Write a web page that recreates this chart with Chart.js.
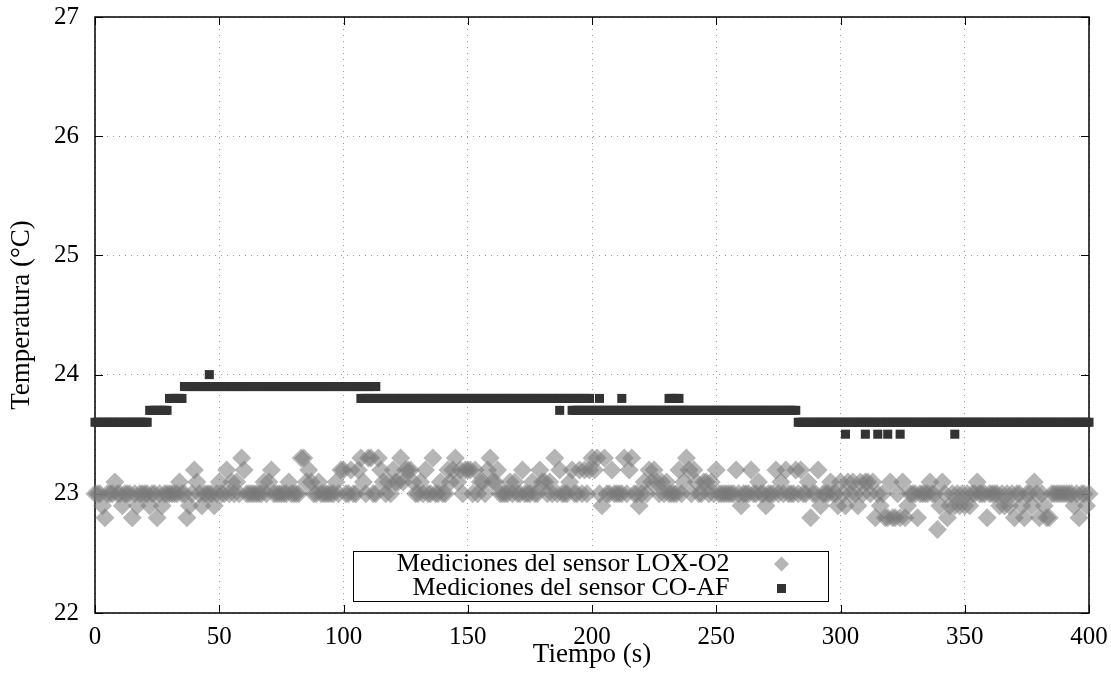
<!DOCTYPE html>
<html lang="es">
<head>
    <meta charset="UTF-8">
    <title>Temperatura - LOX-O2 vs CO-AF</title>
    <script src="https://cdn.jsdelivr.net/npm/chart.js"></script>
    <style>
        html, body {
            margin: 0;
            padding: 0;
            background-color: #fff;
        }
        #wrap {
            width: 1111px;
            height: 698px;
        }
    </style>
</head>
<body>
    <div id="wrap">
        <canvas id="tempChart" width="1111" height="698"></canvas>
    </div>

    <script>
        // Eje x / eje y
        const xTicks = [0, 50, 100, 150, 200, 250, 300, 350, 400];
        const yTicks = [22, 23, 24, 25, 26, 27];

        // Sensor LOX-O2: una lectura por segundo, t = 0..400
        const loxTemp = [
            23.0, 23.0, 23.0, 22.9, 22.8, 23.0, 23.0, 23.0, 23.1, 23.0,
            23.0, 22.9, 23.0, 23.0, 23.0, 22.8, 23.0, 22.9, 23.0, 23.0,
            23.0, 23.0, 22.9, 23.0, 23.0, 22.8, 23.0, 22.9, 23.0, 23.0,
            23.0, 23.0, 23.0, 23.0, 23.1, 23.0, 23.0, 22.8, 22.9, 23.0,
            23.2, 23.1, 23.0, 22.9, 23.0, 23.0, 23.0, 23.0, 22.9, 23.0,
            23.1, 23.0, 23.0, 23.2, 23.0, 23.1, 23.0, 23.1, 23.0, 23.3,
            23.2, 23.0, 23.0, 23.0, 23.0, 23.0, 23.0, 23.0, 23.1, 23.0,
            23.1, 23.2, 23.0, 23.0, 23.0, 23.0, 23.0, 23.0, 23.1, 23.0,
            23.0, 23.0, 23.0, 23.3, 23.3, 23.1, 23.2, 23.1, 23.0, 23.0,
            23.1, 23.0, 23.0, 23.0, 23.0, 23.0, 23.0, 23.1, 23.0, 23.2,
            23.2, 23.0, 23.0, 23.2, 23.0, 23.0, 23.2, 23.3, 23.1, 23.0,
            23.3, 23.3, 23.0, 23.0, 23.3, 23.2, 23.1, 23.0, 23.1, 23.0,
            23.2, 23.1, 23.1, 23.3, 23.1, 23.2, 23.2, 23.2, 23.1, 23.0,
            23.0, 23.1, 23.0, 23.2, 23.0, 23.0, 23.3, 23.0, 23.0, 23.1,
            23.0, 23.0, 23.2, 23.1, 23.2, 23.3, 23.1, 23.2, 23.0, 23.2,
            23.2, 23.2, 23.0, 23.2, 23.0, 23.1, 23.1, 23.0, 23.2, 23.3,
            23.1, 23.1, 23.2, 23.0, 23.0, 23.0, 23.0, 23.1, 23.0, 23.1,
            23.0, 23.0, 23.2, 23.0, 23.0, 23.0, 23.1, 23.0, 23.0, 23.2,
            23.1, 23.1, 23.0, 23.1, 23.0, 23.3, 23.0, 23.2, 23.0, 23.0,
            23.0, 23.1, 23.2, 23.0, 23.0, 23.2, 23.0, 23.2, 23.0, 23.2,
            23.3, 23.2, 23.3, 23.0, 22.9, 23.3, 23.0, 23.0, 23.2, 23.0,
            23.0, 23.0, 23.0, 23.3, 23.0, 23.2, 23.3, 23.0, 23.0, 22.9,
            23.0, 23.1, 23.0, 23.2, 23.1, 23.2, 23.1, 23.0, 23.1, 23.0,
            23.1, 23.0, 23.0, 23.0, 23.0, 23.2, 23.0, 23.1, 23.3, 23.2,
            23.0, 23.2, 23.1, 23.0, 23.0, 23.1, 23.1, 23.0, 23.1, 23.0,
            23.2, 23.0, 23.0, 23.0, 23.0, 23.0, 23.0, 23.0, 23.2, 23.0,
            22.9, 23.0, 23.0, 23.0, 23.2, 23.0, 23.0, 23.1, 23.0, 23.0,
            22.9, 23.0, 23.0, 23.0, 23.2, 23.0, 23.1, 23.0, 23.2, 23.0,
            23.0, 23.0, 23.2, 23.0, 23.2, 23.0, 23.0, 23.1, 22.8, 23.0,
            23.0, 23.2, 22.9, 23.0, 23.0, 23.0, 23.1, 23.0, 23.0, 22.9,
            23.1, 23.0, 22.9, 23.1, 23.0, 23.1, 23.0, 22.9, 23.1, 23.0,
            23.1, 23.1, 23.0, 23.1, 22.8, 23.0, 22.9, 23.0, 22.8, 22.8,
            23.1, 22.8, 22.8, 23.0, 22.8, 23.1, 22.8, 22.9, 23.0, 23.0,
            23.0, 22.8, 23.0, 23.0, 23.0, 23.0, 23.1, 23.0, 23.0, 22.7,
            22.9, 23.1, 23.0, 22.8, 22.9, 23.0, 22.9, 23.0, 22.9, 23.0,
            22.9, 23.0, 22.9, 23.0, 23.0, 23.1, 23.0, 23.0, 23.0, 22.8,
            23.0, 23.0, 23.0, 23.0, 22.9, 23.0, 22.9, 23.0, 22.9, 23.0,
            22.8, 23.0, 23.0, 22.9, 22.8, 23.0, 23.0, 22.9, 23.1, 23.0,
            22.8, 23.0, 22.9, 22.8, 22.8, 23.0, 23.0, 23.0, 23.0, 23.0,
            23.0, 23.0, 23.0, 23.0, 22.9, 23.0, 22.8, 23.0, 23.0, 22.9,
            23.0
        ];

        // Sensor CO-AF: tramos constantes (segundo inicial, segundo final, valor)
        const coStart = [0, 22, 30, 36, 46, 107, 187, 192, 203, 212, 231, 283, 302, 310, 315, 319, 324, 346];
        const coEnd   = [21, 29, 35, 113, 46, 199, 187, 282, 203, 212, 235, 400, 302, 310, 315, 319, 324, 346];
        const coValue = [23.6, 23.7, 23.8, 23.9, 24.0, 23.8, 23.7, 23.7, 23.8, 23.8, 23.8, 23.6, 23.5, 23.5, 23.5, 23.5, 23.5, 23.5];

        const labelLox = "Mediciones del sensor LOX-O2";
        const labelCo = "Mediciones del sensor CO-AF";

        const fontFamily = "'Liberation Serif', 'Times New Roman', serif";
        const loxColor = "rgba(120, 120, 120, 0.55)";
        const coColor = "#333333";

        const loxPoints = loxTemp.map((v, i) => ({ x: i, y: v }));
        const coPoints = [];
        coStart.forEach((s, i) => {
            for (let t = s; t <= coEnd[i]; t++) {
                coPoints.push({ x: t, y: coValue[i] });
            }
        });

        function diamond(ctx, x, y, r) {
            ctx.beginPath();
            ctx.moveTo(x - r, y);
            ctx.lineTo(x, y - r);
            ctx.lineTo(x + r, y);
            ctx.lineTo(x, y + r);
            ctx.closePath();
            ctx.fill();
        }

        // Marco negro con marcas hacia adentro (estilo gnuplot)
        const framePlugin = {
            id: "frame",
            beforeDatasetsDraw(chart) {
                const { ctx, chartArea: a, scales } = chart;
                ctx.save();
                ctx.strokeStyle = "#000";
                ctx.lineWidth = 1;
                ctx.beginPath();
                xTicks.forEach(v => {
                    const px = Math.round(scales.x.getPixelForValue(v)) + 0.5;
                    ctx.moveTo(px, a.bottom); ctx.lineTo(px, a.bottom - 8);
                    ctx.moveTo(px, a.top); ctx.lineTo(px, a.top + 8);
                });
                yTicks.forEach(v => {
                    const py = Math.round(scales.y.getPixelForValue(v)) + 0.5;
                    ctx.moveTo(a.left, py); ctx.lineTo(a.left + 8, py);
                    ctx.moveTo(a.right, py); ctx.lineTo(a.right - 8, py);
                });
                ctx.stroke();
                ctx.lineWidth = 1.5;
                ctx.strokeRect(a.left, a.top, a.right - a.left, a.bottom - a.top);
                ctx.restore();
            },
            afterDraw(chart) {
                const { ctx, chartArea: a } = chart;
                const boxW = 475, boxH = 50;
                const cx = (a.left + a.right) / 2 - 2;
                const left = Math.round(cx - boxW / 2) + 0.5;
                const top = Math.round(a.bottom - 12 - boxH) + 0.5;
                ctx.save();
                ctx.fillStyle = "#fff";
                ctx.fillRect(left, top, boxW, boxH);
                ctx.strokeStyle = "#000";
                ctx.lineWidth = 1;
                ctx.strokeRect(left, top, boxW, boxH);
                ctx.fillStyle = "#000";
                ctx.font = "26px " + fontFamily;
                ctx.textAlign = "right";
                ctx.textBaseline = "middle";
                const textX = left + 376;
                const y1 = top + 12.5, y2 = top + 37;
                ctx.fillText(labelLox, textX, y1);
                ctx.fillText(labelCo, textX, y2);
                const symX = left + 428;
                ctx.fillStyle = loxColor;
                diamond(ctx, symX, y1, 7.5);
                ctx.fillStyle = coColor;
                ctx.fillRect(symX - 4.5, y2 - 4.5, 9, 9);
                ctx.restore();
            }
        };

        const ctx = document.getElementById("tempChart").getContext("2d");
        new Chart(ctx, {
            type: "scatter",
            data: {
                datasets: [
                    {
                        label: labelLox,
                        data: loxPoints,
                        pointStyle: "rectRot",
                        pointRadius: 9.5,
                        backgroundColor: loxColor,
                        borderWidth: 0,
                        clip: false
                    },
                    {
                        label: labelCo,
                        data: coPoints,
                        pointStyle: "rect",
                        pointRadius: 6.4,
                        backgroundColor: coColor,
                        borderWidth: 0,
                        clip: false
                    }
                ]
            },
            options: {
                responsive: false,
                animation: false,
                events: [],
                layout: { padding: { top: 17, right: 22, left: 0, bottom: 0 } },
                plugins: {
                    legend: { display: false },
                    tooltip: { enabled: false }
                },
                scales: {
                    x: {
                        type: "linear",
                        min: 0,
                        max: 400,
                        afterBuildTicks: s => { s.ticks = xTicks.map(v => ({ value: v })); },
                        ticks: {
                            color: "#000",
                            font: { family: fontFamily, size: 25 },
                            padding: 9,
                            maxRotation: 0
                        },
                        grid: { color: "#9a9a9a", lineWidth: 1, drawTicks: false },
                        border: { display: false, dash: [1, 5] },
                        title: {
                            display: true,
                            text: "Tiempo (s)",
                            color: "#000",
                            font: { family: fontFamily, size: 27 },
                            padding: { top: 0, bottom: 27 }
                        },
                        afterFit: s => {
                            s.height = 85;
                            s.paddingLeft = 0;
                            s.paddingRight = 0;
                        }
                    },
                    y: {
                        type: "linear",
                        min: 22,
                        max: 27,
                        afterBuildTicks: s => { s.ticks = yTicks.map(v => ({ value: v })); },
                        ticks: {
                            color: "#000",
                            font: { family: fontFamily, size: 25 },
                            padding: 16
                        },
                        grid: { color: "#9a9a9a", lineWidth: 1, drawTicks: false },
                        border: { display: false, dash: [1, 5] },
                        title: {
                            display: true,
                            text: "Temperatura (°C)",
                            color: "#000",
                            font: { family: fontFamily, size: 27 },
                            padding: { top: 6, bottom: 0 }
                        },
                        afterFit: s => {
                            s.width = 95;
                            s.paddingTop = 0;
                            s.paddingBottom = 0;
                        }
                    }
                }
            },
            plugins: [framePlugin]
        });
    </script>
</body>
</html>
